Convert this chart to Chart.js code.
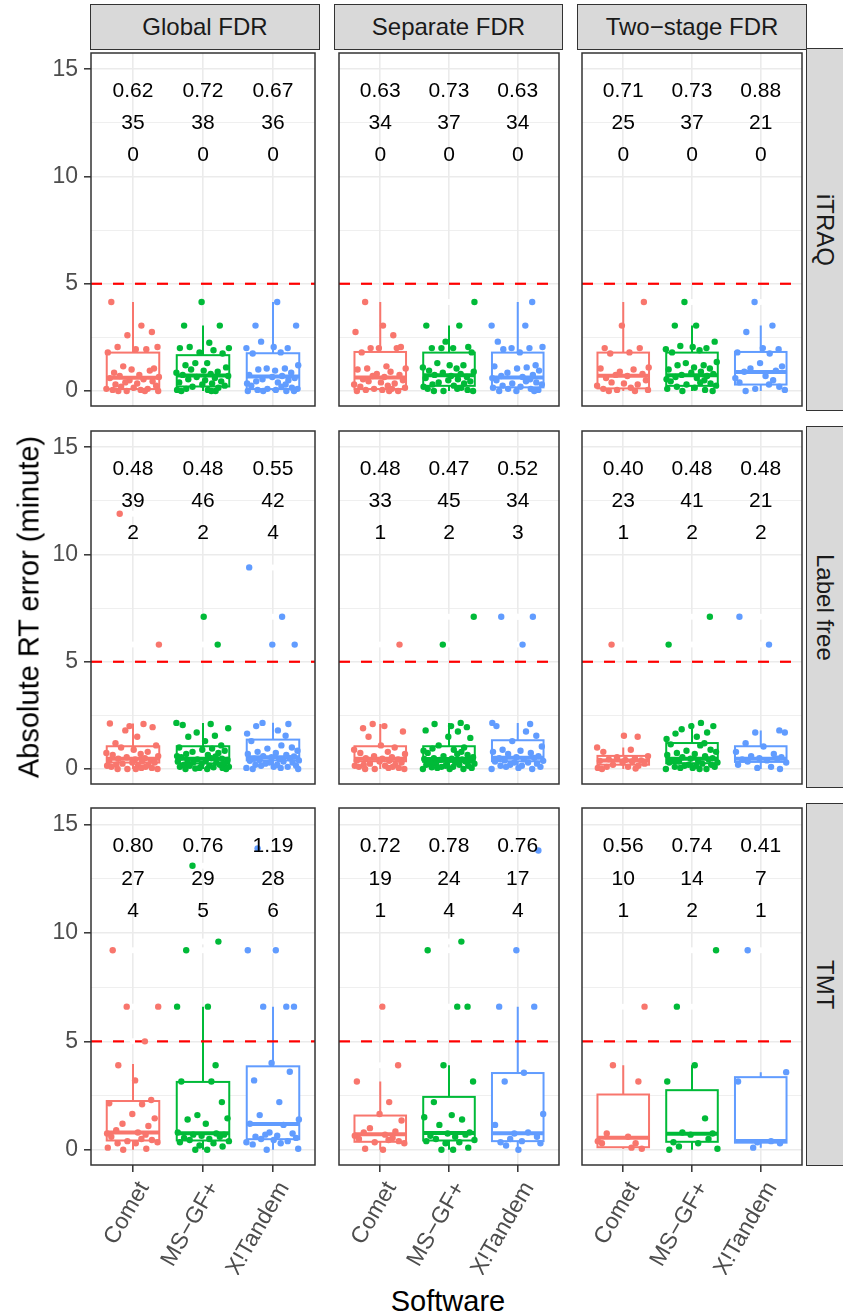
<!DOCTYPE html>
<html>
<head>
<meta charset="utf-8">
<script src="https://cdn.jsdelivr.net/npm/chart.js@4.4.0/dist/chart.umd.min.js"></script>
<style>
  body { margin: 0; background: #fff; width: 843px; height: 1316px; position: relative; overflow: hidden;
         font-family: 'Liberation Sans', Arial, sans-serif; }
  .panel { position: absolute; }
  .strip { position: absolute; background: #D9D9D9; border: 1.5px solid #333; box-sizing: border-box;
           color: #1A1A1A; font-size: 24px; display: flex; align-items: center; justify-content: center; }
  .strip.side { padding-right: 5px; }
  .strip.side span { writing-mode: vertical-rl; }
  .title { position: absolute; font-size: 29px; color: #000; white-space: nowrap; }
</style>
</head>
<body>
<script>
// Categorias e facetas
const software = ['Comet', 'MS\u2212GF+', 'X!Tandem'];
const fdrTypes = ['Global FDR', 'Separate FDR', 'Two\u2212stage FDR'];
const labelTypes = ['iTRAQ', 'Label free', 'TMT'];
const colors = ['#F8766D', '#00BA38', '#619CFF'];

// Pontos (erro absoluto de RT, minutos) por painel: [Comet, MS-GF+, X!Tandem]
const itraqGlobal = [
  [4.15, 3.05, 2.75, 2.6, 2.05, 2.05, 1.95, 1.8, 1.95, 1.15, 1.05, 1.0, 0.95, 0.85, 0.75, 0.7, 0.65, 0.6, 0.55, 0.5, 0.45, 0.4, 0.35, 0.3, 0.25, 0.2, 0.15, 0.1, 0.1, 0.05, 0.05, 0.0, 0.0, 0.0, 0.0],
  [4.15, 3.05, 3.05, 2.25, 2.05, 2.0, 2.0, 1.9, 1.8, 1.75, 1.3, 1.3, 1.2, 1.1, 1.0, 0.95, 0.9, 0.85, 0.8, 0.75, 0.7, 0.65, 0.6, 0.55, 0.5, 0.45, 0.4, 0.35, 0.3, 0.25, 0.2, 0.15, 0.1, 0.05, 0.05, 0.0, 0.0, 0.0],
  [4.15, 3.05, 3.05, 2.3, 2.05, 2.0, 2.0, 1.8, 1.75, 1.2, 1.05, 1.05, 1.0, 0.95, 0.85, 0.75, 0.7, 0.65, 0.6, 0.55, 0.5, 0.45, 0.4, 0.35, 0.3, 0.25, 0.2, 0.15, 0.1, 0.1, 0.05, 0.05, 0.0, 0.0, 0.0, 0.0]
];
const itraqSeparate = [
  [4.15, 3.05, 2.75, 2.6, 2.0, 2.05, 2.0, 2.0, 1.8, 1.15, 1.05, 1.05, 1.0, 0.9, 0.8, 0.75, 0.7, 0.65, 0.55, 0.5, 0.45, 0.4, 0.35, 0.3, 0.25, 0.2, 0.15, 0.1, 0.1, 0.05, 0.05, 0.0, 0.0, 0.0],
  [4.15, 3.05, 3.05, 2.3, 2.05, 2.0, 2.0, 2.0, 1.8, 1.3, 1.2, 1.2, 1.1, 1.05, 0.95, 0.9, 0.85, 0.8, 0.75, 0.7, 0.65, 0.6, 0.55, 0.5, 0.45, 0.4, 0.35, 0.3, 0.25, 0.2, 0.15, 0.1, 0.1, 0.05, 0.0, 0.0, 0.0],
  [4.15, 3.05, 3.05, 2.3, 2.05, 2.0, 2.0, 1.95, 1.8, 1.2, 1.15, 1.1, 1.05, 0.95, 0.85, 0.75, 0.7, 0.65, 0.6, 0.55, 0.5, 0.45, 0.4, 0.35, 0.3, 0.25, 0.2, 0.15, 0.1, 0.1, 0.05, 0.0, 0.0, 0.0]
];
const itraqTwoStage = [
  [4.15, 3.05, 2.0, 2.0, 1.8, 1.75, 1.1, 1.05, 1.0, 0.9, 0.8, 0.75, 0.7, 0.6, 0.5, 0.4, 0.35, 0.3, 0.25, 0.15, 0.1, 0.05, 0.05, 0.0, 0.0],
  [4.15, 3.05, 3.05, 2.3, 2.1, 2.05, 2.0, 1.95, 1.9, 1.8, 1.35, 1.3, 1.2, 1.2, 1.1, 1.05, 1.0, 0.9, 0.85, 0.8, 0.75, 0.7, 0.65, 0.6, 0.55, 0.5, 0.45, 0.4, 0.35, 0.3, 0.25, 0.2, 0.15, 0.1, 0.05, 0.0, 0.0],
  [4.15, 3.05, 2.75, 2.0, 1.95, 1.8, 1.75, 1.3, 1.15, 1.05, 0.95, 0.9, 0.7, 0.6, 0.5, 0.4, 0.3, 0.2, 0.1, 0.05, 0.0]
];
const lfGlobal = [
  [11.9, 5.8, 2.12, 2.1, 2.0, 1.95, 1.8, 1.5, 1.2, 1.1, 1.0, 0.9, 0.8, 0.75, 0.7, 0.65, 0.6, 0.55, 0.5, 0.48, 0.45, 0.4, 0.38, 0.35, 0.3, 0.3, 0.25, 0.2, 0.2, 0.15, 0.15, 0.1, 0.1, 0.05, 0.05, 0.0, 0.0, 0.0, 0.0],
  [7.1, 5.8, 2.15, 2.1, 2.05, 1.9, 1.7, 1.55, 1.5, 1.3, 1.1, 1.0, 0.95, 0.9, 0.85, 0.8, 0.75, 0.7, 0.65, 0.6, 0.58, 0.55, 0.5, 0.48, 0.45, 0.42, 0.4, 0.38, 0.35, 0.3, 0.3, 0.25, 0.25, 0.2, 0.2, 0.15, 0.15, 0.1, 0.1, 0.08, 0.05, 0.05, 0.02, 0.0, 0.0, 0.0],
  [9.4, 7.1, 5.8, 5.8, 2.15, 2.1, 2.0, 1.8, 1.65, 1.55, 1.3, 1.1, 1.0, 0.95, 0.85, 0.8, 0.75, 0.7, 0.65, 0.6, 0.58, 0.55, 0.5, 0.48, 0.45, 0.42, 0.4, 0.38, 0.35, 0.3, 0.3, 0.25, 0.2, 0.2, 0.15, 0.15, 0.1, 0.1, 0.05, 0.05, 0.0, 0.0]
];
const lfSeparate = [
  [5.8, 2.1, 2.0, 1.9, 1.75, 1.5, 1.1, 1.0, 0.9, 0.8, 0.75, 0.7, 0.6, 0.55, 0.5, 0.48, 0.45, 0.4, 0.38, 0.35, 0.3, 0.25, 0.2, 0.2, 0.15, 0.15, 0.1, 0.1, 0.05, 0.05, 0.0, 0.0, 0.0],
  [7.1, 5.8, 2.15, 2.1, 2.0, 1.95, 1.8, 1.75, 1.5, 1.45, 1.1, 1.0, 0.95, 0.9, 0.85, 0.8, 0.75, 0.7, 0.65, 0.6, 0.55, 0.5, 0.48, 0.47, 0.45, 0.42, 0.4, 0.38, 0.35, 0.3, 0.3, 0.25, 0.25, 0.2, 0.2, 0.15, 0.15, 0.1, 0.1, 0.08, 0.05, 0.05, 0.0, 0.0, 0.0],
  [7.1, 7.1, 5.8, 2.15, 2.1, 2.0, 1.75, 1.55, 1.3, 1.05, 0.9, 0.85, 0.8, 0.75, 0.7, 0.6, 0.55, 0.52, 0.5, 0.45, 0.4, 0.38, 0.35, 0.3, 0.3, 0.25, 0.2, 0.15, 0.15, 0.1, 0.1, 0.05, 0.0, 0.0]
];
const lfTwoStage = [
  [5.8, 1.55, 1.5, 1.0, 0.9, 0.8, 0.6, 0.55, 0.5, 0.45, 0.42, 0.4, 0.38, 0.35, 0.3, 0.25, 0.2, 0.15, 0.1, 0.1, 0.05, 0.02, 0.0],
  [7.1, 5.8, 2.15, 2.0, 2.0, 1.85, 1.7, 1.65, 1.5, 1.4, 1.2, 1.15, 1.1, 0.9, 0.85, 0.8, 0.75, 0.7, 0.65, 0.6, 0.55, 0.5, 0.48, 0.45, 0.4, 0.38, 0.35, 0.3, 0.3, 0.25, 0.2, 0.2, 0.15, 0.15, 0.1, 0.1, 0.05, 0.05, 0.0, 0.0, 0.0],
  [7.1, 5.8, 1.8, 1.7, 1.7, 1.2, 1.05, 0.8, 0.7, 0.6, 0.55, 0.5, 0.48, 0.45, 0.4, 0.35, 0.3, 0.2, 0.1, 0.05, 0.0]
];
const tmtGlobal = [
  [9.2, 6.6, 6.6, 5.0, 3.9, 3.2, 2.3, 2.15, 2.1, 1.65, 1.45, 1.2, 1.1, 0.9, 0.8, 0.75, 0.7, 0.6, 0.5, 0.45, 0.4, 0.35, 0.3, 0.3, 0.1, 0.05, 0.0],
  [13.1, 9.6, 9.2, 6.6, 6.6, 3.9, 3.15, 3.15, 2.2, 1.6, 1.45, 1.4, 1.2, 0.8, 0.75, 0.7, 0.7, 0.65, 0.6, 0.55, 0.5, 0.45, 0.4, 0.35, 0.3, 0.2, 0.15, 0.0, 0.0],
  [13.9, 9.2, 9.2, 6.6, 6.6, 6.6, 4.0, 3.6, 3.2, 2.2, 1.6, 1.4, 1.2, 1.15, 0.8, 0.75, 0.7, 0.65, 0.6, 0.55, 0.5, 0.45, 0.4, 0.35, 0.3, 0.25, 0.05, 0.0]
];
const tmtSeparate = [
  [6.6, 3.9, 3.15, 2.2, 1.65, 1.35, 1.0, 0.85, 0.8, 0.7, 0.65, 0.55, 0.5, 0.45, 0.4, 0.35, 0.3, 0.05, 0.0],
  [9.6, 9.2, 6.6, 6.6, 3.9, 3.15, 2.2, 1.6, 1.5, 1.4, 1.15, 0.8, 0.75, 0.7, 0.65, 0.6, 0.5, 0.45, 0.4, 0.35, 0.3, 0.1, 0.0, 0.0],
  [13.8, 9.2, 6.6, 6.6, 3.55, 3.15, 1.65, 1.15, 0.8, 0.75, 0.6, 0.5, 0.4, 0.35, 0.3, 0.2, 0.0]
];
const tmtTwoStage = [
  [6.6, 3.9, 3.15, 0.75, 0.6, 0.4, 0.3, 0.3, 0.1, 0.05],
  [9.2, 6.6, 3.9, 3.15, 1.45, 0.8, 0.75, 0.7, 0.5, 0.35, 0.3, 0.15, 0.05, 0.0],
  [9.2, 3.58, 3.15, 0.4, 0.35, 0.3, 0.1]
];

// Estatísticas dos boxplots: [bigode inf, Q1, mediana, Q3, bigode sup]
const itraqGlobalBox   = [[0, 0.09, 0.62, 1.79, 4.15], [0, 0.21, 0.72, 1.67, 3.05], [0, 0.09, 0.67, 1.76, 4.15]];
const itraqSeparateBox = [[0, 0.09, 0.63, 1.82, 4.15], [0, 0.24, 0.73, 1.79, 3.05], [0, 0.17, 0.63, 1.79, 4.15]];
const itraqTwoStageBox = [[0, 0.12, 0.71, 1.79, 4.15], [0, 0.24, 0.73, 1.79, 3.05], [0, 0.30, 0.88, 1.82, 3.05]];
const lfGlobalBox      = [[0, 0.30, 0.48, 1.06, 2.12], [0, 0.26, 0.48, 1.06, 2.15], [0, 0.40, 0.55, 1.37, 2.16]];
const lfSeparateBox    = [[0, 0.36, 0.48, 1.06, 2.10], [0, 0.33, 0.47, 1.06, 2.15], [0, 0.36, 0.52, 1.34, 2.15]];
const lfTwoStageBox    = [[0, 0.20, 0.40, 0.61, 1.00], [0, 0.27, 0.48, 1.21, 2.15], [0, 0.33, 0.48, 1.06, 1.80]];
const tmtGlobalBox     = [[0, 0.43, 0.80, 2.25, 3.96], [0, 0.43, 0.76, 3.13, 6.60], [0, 0.49, 1.19, 3.85, 6.60]];
const tmtSeparateBox   = [[0, 0.37, 0.72, 1.58, 3.15], [0, 0.43, 0.78, 2.44, 3.90], [0, 0.40, 0.76, 3.54, 6.60]];
const tmtTwoStageBox   = [[0.05, 0.12, 0.56, 2.55, 3.90], [0, 0.37, 0.74, 2.75, 3.90], [0.1, 0.33, 0.41, 3.35, 3.58]];

// Textos no topo de cada painel: mediana, n, n > 5 min
const medianText = [['0.62', '0.72', '0.67'], ['0.63', '0.73', '0.63'], ['0.71', '0.73', '0.88'],
                    ['0.48', '0.48', '0.55'], ['0.48', '0.47', '0.52'], ['0.40', '0.48', '0.48'],
                    ['0.80', '0.76', '1.19'], ['0.72', '0.78', '0.76'], ['0.56', '0.74', '0.41']];
const countText = [['35', '38', '36'], ['34', '37', '34'], ['25', '37', '21'],
                   ['39', '46', '42'], ['33', '45', '34'], ['23', '41', '21'],
                   ['27', '29', '28'], ['19', '24', '17'], ['10', '14', '7']];
const over5Text = [['0', '0', '0'], ['0', '0', '0'], ['0', '0', '0'],
                   ['2', '2', '4'], ['1', '2', '3'], ['1', '2', '2'],
                   ['4', '5', '6'], ['1', '4', '4'], ['1', '2', '1']];
const textRowsY = [14, 12.5, 11];
const yTicks = [0, 2.5, 5, 7.5, 10, 12.5, 15];
const threshold = 5;

const panelPoints = [itraqGlobal, itraqSeparate, itraqTwoStage, lfGlobal, lfSeparate, lfTwoStage, tmtGlobal, tmtSeparate, tmtTwoStage];
const panelBoxes = [itraqGlobalBox, itraqSeparateBox, itraqTwoStageBox, lfGlobalBox, lfSeparateBox, lfTwoStageBox, tmtGlobalBox, tmtSeparateBox, tmtTwoStageBox];

// Deslocamentos fixos de jitter horizontal (layout)
const JITTER = [-0.31, 0.12, 0.27, -0.08, 0.35, -0.22, 0.04, -0.36, 0.19, -0.14, 0.30, -0.02, 0.24, -0.27, 0.09, -0.19,
                0.37, -0.33, 0.15, -0.05, 0.28, -0.11, 0.06, -0.25, 0.33, -0.17, 0.01, 0.21, -0.38, 0.11, -0.29, 0.36,
                -0.09, 0.17, -0.21, 0.03, 0.26, -0.34, 0.13, -0.01, 0.31, -0.15, 0.22, -0.24, 0.07, -0.37, 0.18];

// Layout
const colLeft = [91, 334.5, 578];
const rowTop = [49, 426.5, 804];
const panelW = 228, panelH = 361;
const yAxisW = 51, xAxisH = 110;
const FONT = "'Liberation Sans', Arial, sans-serif";

Chart.defaults.font.family = FONT;

function addDiv(cls, text, style) {
    const d = document.createElement('div');
    d.className = cls;
    if (cls.includes('side')) {
        const s = document.createElement('span');
        s.textContent = text;
        d.appendChild(s);
    } else {
        d.textContent = text;
    }
    Object.assign(d.style, style);
    document.body.appendChild(d);
    return d;
}

// Plugin que desenha boxplots, textos e borda do painel
function panelPlugin(p) {
    const boxes = panelBoxes[p];
    const pts = panelPoints[p];
    return {
        id: 'panelDecor' + p,
        beforeDatasetsDraw(chart) {
            const { ctx, chartArea, scales: { x, y } } = chart;
            ctx.save();
            ctx.beginPath();
            ctx.rect(chartArea.left, chartArea.top, chartArea.right - chartArea.left, chartArea.bottom - chartArea.top);
            ctx.clip();
            boxes.forEach((b, g) => {
                const [lo, q1, med, q3, hi] = b;
                const xc = x.getPixelForValue(g + 1);
                const half = x.getPixelForValue(g + 1.375) - xc;
                // outliers (brancos, no centro)
                ctx.fillStyle = '#FFFFFF';
                pts[g].forEach(v => {
                    if (v > hi || v < lo) {
                        ctx.beginPath();
                        ctx.arc(xc, y.getPixelForValue(v), 3, 0, Math.PI * 2);
                        ctx.fill();
                    }
                });
                ctx.strokeStyle = colors[g];
                ctx.lineWidth = 2;
                ctx.beginPath();
                ctx.moveTo(xc, y.getPixelForValue(hi));
                ctx.lineTo(xc, y.getPixelForValue(q3));
                ctx.moveTo(xc, y.getPixelForValue(q1));
                ctx.lineTo(xc, y.getPixelForValue(lo));
                ctx.stroke();
                const top = y.getPixelForValue(q3), bot = y.getPixelForValue(q1);
                ctx.fillStyle = '#FFFFFF';
                ctx.fillRect(xc - half, top, half * 2, bot - top);
                ctx.strokeRect(xc - half, top, half * 2, bot - top);
                ctx.lineWidth = 4;
                ctx.beginPath();
                ctx.moveTo(xc - half, y.getPixelForValue(med));
                ctx.lineTo(xc + half, y.getPixelForValue(med));
                ctx.stroke();
            });
            ctx.restore();
        },
        afterDatasetsDraw(chart) {
            const { ctx, chartArea, scales: { x, y } } = chart;
            ctx.save();
            ctx.fillStyle = '#000000';
            ctx.font = '21px ' + FONT;
            ctx.textAlign = 'center';
            ctx.textBaseline = 'middle';
            const rows = [medianText[p], countText[p], over5Text[p]];
            rows.forEach((row, k) => {
                row.forEach((t, g) => {
                    ctx.fillText(t, x.getPixelForValue(g + 1), y.getPixelForValue(textRowsY[k]));
                });
            });
            ctx.strokeStyle = '#333333';
            ctx.lineWidth = 1.5;
            ctx.strokeRect(chartArea.left, chartArea.top, chartArea.right - chartArea.left, chartArea.bottom - chartArea.top);
            ctx.restore();
        }
    };
}

function renderPanel(r, c) {
    const p = r * 3 + c;
    const isLeft = c === 0;
    const isBottom = r === 2;
    const w = panelW + (isLeft ? yAxisW : 0);
    const h = panelH + (isBottom ? xAxisH : 0);

    const div = document.createElement('div');
    div.className = 'panel';
    div.style.left = (colLeft[c] - (isLeft ? yAxisW : 0)) + 'px';
    div.style.top = rowTop[r] + 'px';
    const canvas = document.createElement('canvas');
    canvas.width = w;
    canvas.height = h;
    canvas.style.width = w + 'px';
    canvas.style.height = h + 'px';
    div.appendChild(canvas);
    document.body.appendChild(div);

    const datasets = [{
        type: 'line',
        data: [{ x: 0.4, y: threshold }, { x: 3.6, y: threshold }],
        borderColor: '#FF0000',
        borderWidth: 2.2,
        borderDash: [11, 11],
        pointRadius: 0,
        order: 10
    }];
    panelPoints[p].forEach((vals, g) => {
        datasets.push({
            type: 'scatter',
            data: vals.map((v, i) => ({ x: g + 1 + JITTER[(i + g * 11 + p * 5) % JITTER.length], y: v })),
            backgroundColor: colors[g],
            pointRadius: 3.2,
            pointBorderWidth: 0,
            order: 1
        });
    });

    new Chart(canvas.getContext('2d'), {
        type: 'scatter',
        data: { datasets: datasets },
        options: {
            responsive: false,
            animation: false,
            events: [],
            layout: { padding: 0 },
            plugins: { legend: { display: false }, tooltip: { enabled: false } },
            scales: {
                x: {
                    type: 'linear',
                    min: 0.4,
                    max: 3.6,
                    afterBuildTicks: s => { s.ticks = [1, 2, 3].map(v => ({ value: v })); },
                    afterFit: s => { s.height = isBottom ? xAxisH : 0; s.paddingLeft = 0; s.paddingRight = 0; },
                    border: { display: false },
                    grid: { color: '#EBEBEB', lineWidth: 1.6, drawTicks: isBottom, tickLength: 7, tickColor: '#333333', tickWidth: 1.5 },
                    ticks: {
                        display: isBottom,
                        autoSkip: false,
                        minRotation: 60,
                        maxRotation: 60,
                        padding: 5,
                        labelOffset: 11,
                        color: '#4D4D4D',
                        font: { size: 23, family: FONT },
                        callback: v => software[v - 1]
                    }
                },
                y: {
                    type: 'linear',
                    min: -0.7,
                    max: 15.76,
                    afterBuildTicks: s => { s.ticks = yTicks.map(v => ({ value: v })); },
                    afterFit: s => { s.width = isLeft ? yAxisW : 0; s.paddingTop = 0; s.paddingBottom = 0; },
                    border: { display: false },
                    grid: {
                        color: '#EBEBEB',
                        lineWidth: ctx => (ctx.tick && ctx.tick.value % 5 === 0) ? 1.6 : 0.8,
                        drawTicks: isLeft,
                        tickLength: 7,
                        tickWidth: 1.5,
                        tickColor: ctx => (ctx.tick && ctx.tick.value % 5 === 0) ? '#333333' : 'rgba(0,0,0,0)'
                    },
                    ticks: {
                        display: isLeft,
                        autoSkip: false,
                        padding: 6,
                        color: '#4D4D4D',
                        font: { size: 23, family: FONT },
                        callback: v => (v % 5 === 0 ? String(v) : '')
                    }
                }
            }
        },
        plugins: [panelPlugin(p)]
    });
}

// Faixas (strips) das facetas
fdrTypes.forEach((t, c) => {
    addDiv('strip', t, { left: (colLeft[c] - 0.75) + 'px', top: '4px', width: (panelW + 1.5) + 'px', height: '45.75px' });
});
labelTypes.forEach((t, r) => {
    addDiv('strip side', t, { left: '806px', top: (rowTop[r] - 0.75) + 'px', width: '42px', height: (panelH + 1.5) + 'px' });
});

for (let r = 0; r < 3; r++) {
    for (let c = 0; c < 3; c++) {
        renderPanel(r, c);
    }
}

// Títulos dos eixos
addDiv('title', 'Absolute RT error (minute)', { left: '29px', top: '607px', transform: 'translate(-50%, -50%) rotate(-90deg)' });
addDiv('title', 'Software', { left: '448px', top: '1301px', transform: 'translate(-50%, -50%)' });
</script>
</body>
</html>
